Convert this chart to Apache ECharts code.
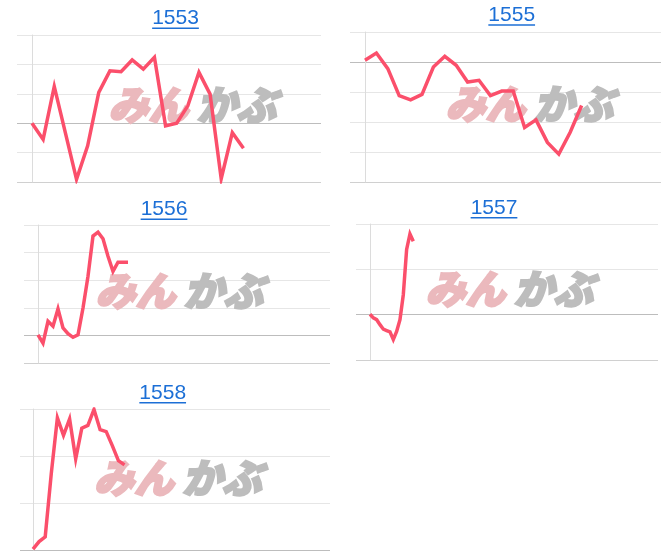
<!DOCTYPE html>
<html><head><meta charset="utf-8">
<script src="https://cdn.jsdelivr.net/npm/echarts@6/dist/echarts.min.js"></script>
<style>html,body{margin:0;padding:0;background:#fff}#c{width:666px;height:558px}</style>
</head><body><div id="c"></div>
<script>
// ---- data ----
const titles = ['1553', '1555', '1556', '1557', '1558'];
const s1553 = [0, -5.5, 12.5, -3.3, -19.1, -7.7, 10.5, 17.8, 17.5, 21.5, 18.4, 22.4, -0.9, 0, 5.9, 17.3, 9.9, -18.9, -3.2, -8.5];
const s1555 = [0.6, 3.0, -2.2, -11.2, -12.6, -10.8, -1.7, 1.9, -1.1, -6.7, -6.1, -11.2, -9.7, -9.7, -21.8, -19.3, -26.8, -30.7, -23.4, -14.5];
const s1556 = [0.2, -2.8, 5.1, 3.3, 9.6, 2.7, 0.6, -0.7, 0.2, 9.9, 21.4, 36.0, 37.4, 35.0, 28.7, 23.2, 26.5, 26.5, 26.5];
const s1557 = [0.1, -0.7, -1.1, -2.2, -3.2, -3.5, -3.8, -5.5, -3.7, -1.1, 4.4, 14.4, 17.8, 16.2];
const s1558 = [0.2, 1.8, 2.8, 16.3, 28.1, 24.4, 27.9, 19.4, 25.9, 26.5, 29.9, 25.6, 25.2, 22.2, 19.0, 18.1];
const yMins = [-20, -40, -10, -10, 0];
const yMaxs = [30, 10, 40, 20, 30];
const seriesList = [s1553, s1555, s1556, s1557, s1558];

// ---- layout / style ----
const panels = [
  {left: 17,  top: 35,  width: 304, height: 147, axisX: 32,  step: 11.13, wm: [192.5, 105], tt: [175.5, 18.3], ul: 28.2},
  {left: 350, top: 32,  width: 311, height: 150, axisX: 365, step: 11.4,  wm: [529.5, 103.5], tt: [511.7, 15.3], ul: 25},
  {left: 24,  top: 225, width: 306, height: 138, axisX: 38,  step: 5.0,   wm: [179.5, 291], tt: [164, 209.7], ul: 219.2},
  {left: 356, top: 224, width: 302, height: 136, axisX: 370, step: 3.33,  wm: [509.5, 289], tt: [494, 208], ul: 217.7},
  {left: 20,  top: 409, width: 310, height: 141, axisX: 33,  step: 6.1,   wm: [178, 478], tt: [162.7, 393], ul: 402.7}
];
const LIGHT = '#e6e6e6', BASE = '#bdbdbd', BOTTOM = '#d0d0d0';
const LINE = '#fb4f6b';
const TITLE = '#1c6fd6';
const titleFont = '21px "Liberation Sans", Arial, sans-serif';
const wmFont = 'italic 900 40px "Noto Sans CJK JP"';

function splitColors(min, max) {
  const cols = [];
  for (let v = min; v <= max + 1e-9; v += 10) {
    if (v === 0) cols.push(BASE);
    else if (v === min) cols.push(BOTTOM);
    else cols.push(LIGHT);
  }
  return cols;
}

const mctx = document.createElement('canvas').getContext('2d');
mctx.font = titleFont;

const grid = [], xAxis = [], yAxis = [], series = [], graphic = [];
panels.forEach((p, i) => {
  grid.push({left: p.left, top: p.top, width: p.width, height: p.height, containLabel: false});
  xAxis.push({
    type: 'value', gridIndex: i,
    min: -(p.axisX - p.left) / p.step,
    max: (p.left + p.width - p.axisX) / p.step,
    axisLine: {show: false}, axisTick: {show: false}, axisLabel: {show: false}, splitLine: {show: false}
  });
  yAxis.push({
    type: 'value', gridIndex: i, min: yMins[i], max: yMaxs[i], interval: 10,
    axisLine: {show: true, onZero: true, lineStyle: {color: '#dcdcdc', width: 1}},
    axisTick: {show: false}, axisLabel: {show: false},
    splitLine: {show: true, lineStyle: {color: splitColors(yMins[i], yMaxs[i]), width: 1}}
  });
  series.push({
    type: 'line', xAxisIndex: i, yAxisIndex: i,
    data: seriesList[i].map((v, k) => [k, v]),
    showSymbol: false, symbol: 'none', smooth: false,
    lineStyle: {color: LINE, width: 3.5, join: 'miter', cap: 'butt'},
    z: 3, silent: true
  });
  // watermark
  graphic.push({
    type: 'text', z: 1, x: p.wm[0] - 4, y: p.wm[1],
    style: {text: 'みん', fill: '#ebb9bd', stroke: '#ebb9bd', lineWidth: 2.2, font: wmFont, align: 'right', verticalAlign: 'middle'}
  });
  graphic.push({
    type: 'text', z: 1, x: p.wm[0] + 4, y: p.wm[1],
    style: {text: 'かぶ', fill: '#bdbdbd', stroke: '#bdbdbd', lineWidth: 2.2, font: wmFont, align: 'left', verticalAlign: 'middle'}
  });
  // title + underline
  graphic.push({
    type: 'text', z: 5, x: p.tt[0], y: p.tt[1],
    style: {text: titles[i], fill: TITLE, font: titleFont, align: 'center', verticalAlign: 'middle'}
  });
  const w = mctx.measureText(titles[i]).width;
  graphic.push({
    type: 'rect', z: 5,
    shape: {x: p.tt[0] - w / 2, y: p.ul - 0.75, width: w, height: 1.5},
    style: {fill: TITLE}
  });
});

const chart = echarts.init(document.getElementById('c'), null, {renderer: 'canvas'});
chart.setOption({
  animation: false,
  backgroundColor: '#fff',
  grid, xAxis, yAxis, series, graphic
});
</script>
</body></html>
